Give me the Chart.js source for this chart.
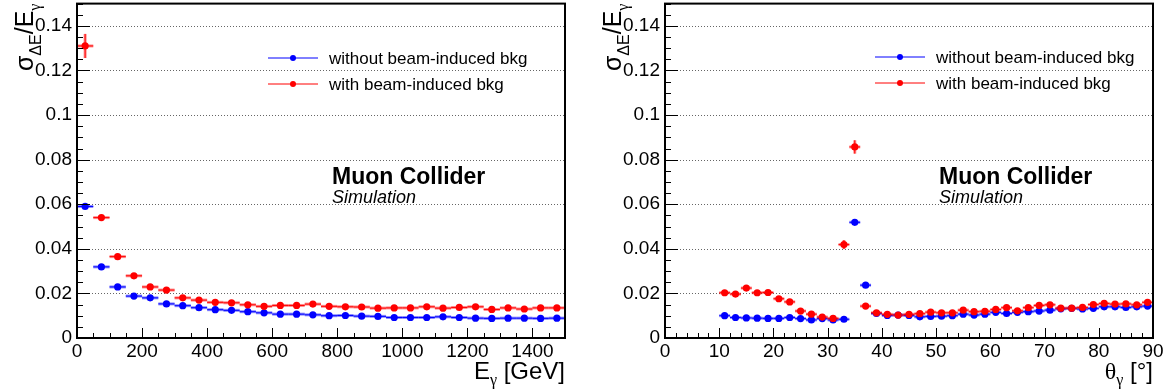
<!DOCTYPE html>
<html>
<head>
<meta charset="utf-8">
<script src="https://cdn.jsdelivr.net/npm/chart.js@4"></script>
<style>
  html, body { margin: 0; padding: 0; background: #fff; }
  #wrap { display: flex; width: 1176px; height: 392px; }
  canvas { display: block; }
</style>
</head>
<body>
<div id="wrap">
  <canvas id="energyChart" width="588" height="392"></canvas>
  <canvas id="thetaChart" width="588" height="392"></canvas>
</div>
<script>
// ---- data ----
const energyBins = [25, 75, 125, 175, 225, 275, 325, 375, 425, 475, 525, 575, 625, 675, 725,
                    775, 825, 875, 925, 975, 1025, 1075, 1125, 1175, 1225, 1275, 1325, 1375, 1425, 1475];
const energyNoBkg = [0.0590, 0.0319, 0.0229, 0.0188, 0.0180, 0.0153, 0.0145, 0.0136, 0.0127, 0.0124,
                     0.0118, 0.0113, 0.0107, 0.0107, 0.0104, 0.0100, 0.0101, 0.0098, 0.0097, 0.0092,
                     0.0092, 0.0092, 0.0095, 0.0092, 0.0089, 0.0088, 0.0089, 0.0089, 0.0088, 0.0089];
const energyBkg = [0.1310, 0.0540, 0.0365, 0.0279, 0.0229, 0.0215, 0.0180, 0.0170, 0.0160, 0.0158,
                   0.0149, 0.0142, 0.0146, 0.0146, 0.0152, 0.0142, 0.0140, 0.0139, 0.0134, 0.0135,
                   0.0135, 0.0140, 0.0134, 0.0137, 0.0140, 0.0128, 0.0135, 0.0130, 0.0135, 0.0135];
const energyNoBkgErr = [0.0008, 0.0005, 0.0004, 0.0003, 0.0003, 0.0003, 0.0003, 0.0003, 0.0003, 0.0003,
                        0.0003, 0.0003, 0.0003, 0.0003, 0.0003, 0.0003, 0.0003, 0.0003, 0.0003, 0.0003,
                        0.0003, 0.0003, 0.0003, 0.0003, 0.0003, 0.0003, 0.0003, 0.0003, 0.0003, 0.0003];
const energyBkgErr = [0.0054, 0.0008, 0.0006, 0.0005, 0.0004, 0.0004, 0.0004, 0.0004, 0.0004, 0.0004,
                      0.0004, 0.0004, 0.0004, 0.0004, 0.0004, 0.0004, 0.0004, 0.0004, 0.0004, 0.0004,
                      0.0004, 0.0004, 0.0004, 0.0004, 0.0004, 0.0004, 0.0004, 0.0004, 0.0004, 0.0004];
const energyHalfWidth = 25;
const energyTicks = [0, 200, 400, 600, 800, 1000, 1200, 1400];

const thetaBins = [11, 13, 15, 17, 19, 21, 23, 25, 27, 29, 31, 33, 35, 37, 39, 41, 43, 45, 47, 49,
                   51, 53, 55, 57, 59, 61, 63, 65, 67, 69, 71, 73, 75, 77, 79, 81, 83, 85, 87, 89];
const thetaNoBkg = [0.0100, 0.0092, 0.0090, 0.0089, 0.0088, 0.0088, 0.0092, 0.0087, 0.0081, 0.0087,
                    0.0081, 0.0084, 0.0519, 0.0237, 0.0110, 0.0101, 0.0103, 0.0101, 0.0095, 0.0097,
                    0.0098, 0.0100, 0.0107, 0.0103, 0.0107, 0.0115, 0.0110, 0.0115, 0.0118, 0.0121,
                    0.0125, 0.0131, 0.0133, 0.0130, 0.0133, 0.0140, 0.0140, 0.0137, 0.0140, 0.0143];
const thetaBkg = [0.0203, 0.0197, 0.0224, 0.0203, 0.0204, 0.0176, 0.0162, 0.0121, 0.0107, 0.0094,
                  0.0088, 0.0419, 0.0857, 0.0143, 0.0113, 0.0106, 0.0103, 0.0106, 0.0109, 0.0116,
                  0.0113, 0.0113, 0.0125, 0.0118, 0.0120, 0.0128, 0.0136, 0.0122, 0.0136, 0.0146,
                  0.0149, 0.0134, 0.0134, 0.0137, 0.0150, 0.0155, 0.0152, 0.0153, 0.0149, 0.0160];
const thetaNoBkgErr = [0.0004, 0.0003, 0.0003, 0.0003, 0.0003, 0.0003, 0.0003, 0.0003, 0.0003, 0.0003,
                       0.0003, 0.0003, 0.0008, 0.0006, 0.0003, 0.0003, 0.0003, 0.0003, 0.0003, 0.0003,
                       0.0003, 0.0003, 0.0003, 0.0003, 0.0003, 0.0003, 0.0003, 0.0003, 0.0003, 0.0003,
                       0.0003, 0.0003, 0.0003, 0.0003, 0.0003, 0.0003, 0.0003, 0.0003, 0.0003, 0.0003];
const thetaBkgErr = [0.0006, 0.0006, 0.0006, 0.0006, 0.0006, 0.0005, 0.0005, 0.0005, 0.0005, 0.0004,
                     0.0004, 0.0020, 0.0030, 0.0006, 0.0004, 0.0004, 0.0004, 0.0004, 0.0004, 0.0004,
                     0.0004, 0.0004, 0.0004, 0.0004, 0.0004, 0.0004, 0.0004, 0.0004, 0.0004, 0.0004,
                     0.0004, 0.0004, 0.0004, 0.0004, 0.0004, 0.0004, 0.0004, 0.0004, 0.0004, 0.0005];
const thetaHalfWidth = 1;
const thetaTicks = [0, 10, 20, 30, 40, 50, 60, 70, 80, 90];

const resolutionTicks = [0, 0.02, 0.04, 0.06, 0.08, 0.1, 0.12, 0.14];
const seriesLabels = ['without beam-induced bkg', 'with beam-induced bkg'];

const SANS = '"Liberation Sans", Arial, Helvetica, sans-serif';
const SERIF = '"Liberation Serif", "Times New Roman", serif';
const BLUE = '#0000ff';
const RED = '#ff0000';

// draw a run of text pieces (for sub-scripts)
function drawParts(ctx, parts, x, y, alignRight) {
    let total = 0;
    parts.forEach(p => {
        ctx.font = p.font;
        p.w = ctx.measureText(p.t).width;
        total += p.w;
    });
    let cx = alignRight ? x - total : x;
    parts.forEach(p => {
        ctx.font = p.font;
        ctx.fillText(p.t, cx, y + (p.dy || 0));
        cx += p.w;
    });
}

function seg(ctx, x0, y0, x1, y1) {
    ctx.beginPath();
    ctx.moveTo(x0, y0);
    ctx.lineTo(x1, y1);
    ctx.stroke();
}

const rootStyle = {
    id: 'rootStyle',
    beforeDatasetsDraw(chart, args, opts) {
        const { ctx, chartArea: a, scales: { x, y } } = chart;
        ctx.save();

        // dotted horizontal grid
        ctx.strokeStyle = '#666';
        ctx.lineWidth = 1;
        ctx.setLineDash([1, 2]);
        y.ticks.forEach(t => {
            if (t.value === 0) return;
            const py = Math.round(y.getPixelForValue(t.value)) + 0.5;
            seg(ctx, a.left, py, a.right, py);
        });
        ctx.setLineDash([]);

        // error bars (drawn under the markers)
        chart.data.datasets.slice().reverse().forEach(ds => {
            ds.data.forEach(pt => {
                const px = x.getPixelForValue(pt.x);
                const py = y.getPixelForValue(pt.y);
                const xl = x.getPixelForValue(pt.x - ds.halfWidth);
                const xr = x.getPixelForValue(pt.x + ds.halfWidth);
                const yt = y.getPixelForValue(pt.y + pt.e);
                const yb = y.getPixelForValue(pt.y - pt.e);
                ctx.strokeStyle = ds.paleColor;
                ctx.lineWidth = 3;
                seg(ctx, xl, py, xr, py);
                seg(ctx, px, yt, px, yb);
                ctx.strokeStyle = ds.borderColor;
                ctx.lineWidth = 1;
                seg(ctx, xl, py, xr, py);
                seg(ctx, px, yt, px, yb);
            });
        });
        ctx.restore();
    },
    afterDatasetsDraw(chart, args, opts) {
        const { ctx, chartArea: a, scales: { x, y } } = chart;
        ctx.save();

        // tick marks, pointing inwards
        ctx.strokeStyle = '#000';
        ctx.lineWidth = 1;
        for (let v = 0; v <= x.max + 1e-9; v += opts.xMinor) {
            const px = Math.round(x.getPixelForValue(v)) + 0.5;
            const major = x.ticks.some(t => Math.abs(t.value - v) < 1e-9);
            seg(ctx, px, a.bottom, px, a.bottom - (major ? 10 : 5));
        }
        for (let v = 0; v <= y.max + 1e-9; v += 0.005) {
            const py = Math.round(y.getPixelForValue(v)) + 0.5;
            const major = y.ticks.some(t => Math.abs(t.value - v) < 1e-9);
            seg(ctx, a.left, py, a.left + (major ? 13 : 6), py);
        }

        // frame
        ctx.lineWidth = 2;
        ctx.strokeRect(a.left, a.top, a.right - a.left, a.bottom - a.top);

        // legend
        const colors = [BLUE, RED];
        opts.legendY.forEach((ly, i) => {
            ctx.strokeStyle = colors[i];
            ctx.fillStyle = colors[i];
            ctx.lineWidth = 1;
            seg(ctx, opts.legendX, ly, opts.legendX + 50, ly);
            ctx.beginPath();
            ctx.arc(opts.legendX + 25, ly, 3, 0, Math.PI * 2);
            ctx.fill();
            ctx.fillStyle = '#000';
            ctx.font = '17px ' + SANS;
            ctx.textBaseline = 'middle';
            ctx.fillText(seriesLabels[i], opts.legendX + 61, ly + 1);
        });

        // experiment label
        ctx.textBaseline = 'alphabetic';
        ctx.fillStyle = '#000';
        ctx.font = 'bold 23px ' + SANS;
        ctx.fillText('Muon Collider', opts.labelX, 184);
        ctx.font = 'italic 18px ' + SANS;
        ctx.fillText('Simulation', opts.labelX, 203);

        // x title
        drawParts(ctx, opts.xTitle, a.right, 379, true);

        // y title (rotated)
        ctx.translate(33, a.top);
        ctx.rotate(-Math.PI / 2);
        drawParts(ctx, [
            { t: 'σ', font: '25px ' + SANS },
            { t: 'ΔE', font: '16px ' + SANS, dy: 8 },
            { t: '/E', font: '25px ' + SANS },
            { t: 'γ', font: '16px ' + SERIF, dy: 7 }
        ], 0, 0, true);
        ctx.restore();
    }
};

function makePoints(xs, ys, es) {
    return xs.map((v, i) => ({ x: v, y: ys[i], e: es[i] }));
}

function buildChart(canvasId, cfg) {
    const tickFont = { family: SANS, size: 19 };
    return new Chart(document.getElementById(canvasId), {
        type: 'scatter',
        data: {
            datasets: [{
                label: seriesLabels[1],
                data: makePoints(cfg.bins, cfg.bkg, cfg.bkgErr),
                backgroundColor: RED,
                borderColor: RED,
                paleColor: 'rgba(255,0,0,0.45)',
                halfWidth: cfg.halfWidth,
                pointRadius: 3.6,
                pointBorderWidth: 0,
                pointHoverRadius: 3.6,
                order: 0
            }, {
                label: seriesLabels[0],
                data: makePoints(cfg.bins, cfg.noBkg, cfg.noBkgErr),
                backgroundColor: BLUE,
                borderColor: BLUE,
                paleColor: 'rgba(0,0,255,0.45)',
                halfWidth: cfg.halfWidth,
                pointRadius: 3.6,
                pointBorderWidth: 0,
                pointHoverRadius: 3.6,
                order: 1
            }]
        },
        options: {
            responsive: false,
            devicePixelRatio: 1,
            animation: false,
            layout: { padding: { left: 0, top: 3, right: 23, bottom: 0 } },
            plugins: {
                legend: { display: false },
                tooltip: { enabled: false },
                rootStyle: cfg.style
            },
            scales: {
                x: {
                    type: 'linear',
                    min: 0,
                    max: cfg.xMax,
                    grid: { display: false, drawTicks: false },
                    border: { display: false },
                    afterBuildTicks: s => { s.ticks = cfg.xTicks.map(v => ({ value: v })); },
                    afterFit: s => {
                        s.height = 54;
                        s.paddingLeft = 0; s.paddingRight = 0;
                    },
                    ticks: {
                        font: tickFont, color: '#000', padding: 2, maxRotation: 0, autoSkip: false,
                        callback: v => String(v)
                    }
                },
                y: {
                    min: 0,
                    max: 0.15,
                    grid: { display: false, drawTicks: false },
                    border: { display: false },
                    afterBuildTicks: s => { s.ticks = resolutionTicks.map(v => ({ value: v })); },
                    afterFit: s => {
                        s.width = 77;
                        s.paddingTop = 0; s.paddingBottom = 0;
                    },
                    ticks: {
                        font: tickFont,
                        color: '#000',
                        padding: 5,
                        autoSkip: false,
                        callback: v => String(+v.toFixed(3))
                    }
                }
            }
        },
        plugins: [rootStyle]
    });
}

buildChart('energyChart', {
    bins: energyBins, noBkg: energyNoBkg, bkg: energyBkg,
    noBkgErr: energyNoBkgErr, bkgErr: energyBkgErr,
    halfWidth: energyHalfWidth, xMax: 1500, xTicks: energyTicks,
    style: {
        xMinor: 50, legendX: 268, legendY: [58, 84], labelX: 332,
        xTitle: [
            { t: 'E', font: '24px ' + SANS },
            { t: 'γ', font: '16px ' + SERIF, dy: 6 },
            { t: ' [GeV]', font: '24px ' + SANS }
        ]
    }
});

buildChart('thetaChart', {
    bins: thetaBins, noBkg: thetaNoBkg, bkg: thetaBkg,
    noBkgErr: thetaNoBkgErr, bkgErr: thetaBkgErr,
    halfWidth: thetaHalfWidth, xMax: 90, xTicks: thetaTicks,
    style: {
        xMinor: 2, legendX: 287, legendY: [57, 83], labelX: 351,
        xTitle: [
            { t: 'θ', font: '24px ' + SERIF },
            { t: 'γ', font: '16px ' + SERIF, dy: 6 },
            { t: ' [°]', font: '24px ' + SANS }
        ]
    }
});
</script>
</body>
</html>
